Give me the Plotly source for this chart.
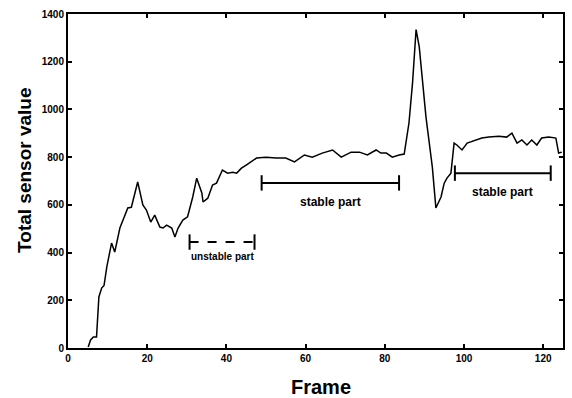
import plotly.graph_objects as go

# ---- data ----
frames = [5.1, 5.7, 6.4, 7.2, 7.8, 8.5, 9.1, 9.8, 11.0, 11.8, 13.1, 14.4, 15.1, 16.0,
          17.6, 18.9, 19.8, 20.9, 21.9, 23.2, 24.0, 24.9, 26.2, 27.0, 27.8, 29.0,
          30.2, 31.5, 32.5, 33.8, 34.1, 35.3, 36.5, 37.5, 38.3, 39.0, 40.3, 41.6,
          42.6, 43.8, 45.0, 46.3, 47.6, 50.0, 52.6, 55.0, 57.2, 59.7, 61.7, 64.2,
          66.8, 69.0, 71.5, 73.6, 75.6, 77.8, 79.0, 80.4, 81.9, 83.6, 84.9, 86.1,
          87.0, 87.9, 88.7, 90.4, 92.0, 92.9, 94.2, 95.0, 95.7, 96.7, 97.5, 98.2,
          99.5, 100.8, 103.0, 104.5, 106.3, 108.8, 110.8, 112.1, 113.4, 114.6,
          115.9, 117.1, 118.4, 119.6, 121.4, 123.2, 123.9, 124.7]
sensor = [4, 34, 46, 46, 214, 251, 262, 340, 440, 402, 503, 557, 587, 590,
          696, 600, 578, 528, 557, 507, 503, 515, 503, 465, 503, 536,
          550, 633, 712, 650, 612, 628, 683, 691, 717, 746, 733, 737,
          733, 754, 767, 780, 796, 800, 796, 796, 780, 809, 800, 817,
          830, 800, 821, 821, 809, 830, 817, 817, 800, 809, 813, 943,
          1110, 1335, 1262, 968, 759, 587, 633, 691, 712, 733, 859, 851,
          830, 859, 872, 880, 884, 888, 884, 901, 859, 872,
          851, 872, 851, 880, 884, 880, 817, 821]

unstable_x = [30.7, 47.1]
unstable_y = 444
stable1_x = [48.9, 83.6]
stable1_y = 692
stable2_x = [97.7, 121.9]
stable2_y = 733

x_ticks = [0, 20, 40, 60, 80, 100, 120]
y_ticks = [0, 200, 400, 600, 800, 1000, 1200, 1400]

FONT = "Liberation Sans"

fig = go.Figure()
fig.add_trace(go.Scatter(x=frames, y=sensor, mode="lines",
                         line=dict(color="black", width=1.5), showlegend=False))

def bracket(xr, y, dash):
    fig.add_trace(go.Scatter(x=xr, y=[y, y], mode="lines+markers",
                             line=dict(color="black", width=2, dash=dash),
                             marker=dict(symbol="line-ns-open", size=11,
                                         line=dict(color="black", width=2)),
                             showlegend=False))

bracket(unstable_x, unstable_y, "dash")
bracket(stable1_x, stable1_y, "solid")
bracket(stable2_x, stable2_y, "solid")

fig.add_annotation(x=sum(unstable_x) / 2, y=unstable_y - 62, text="<b>unstable part</b>",
                   showarrow=False, font=dict(size=10, color="black", family=FONT))
fig.add_annotation(x=sum(stable1_x) / 2, y=stable1_y - 80, text="<b>stable part</b>",
                   showarrow=False, font=dict(size=12, color="black", family=FONT))
fig.add_annotation(x=sum(stable2_x) / 2, y=stable2_y - 80, text="<b>stable part</b>",
                   showarrow=False, font=dict(size=12, color="black", family=FONT))

# axis titles
fig.add_annotation(xref="paper", yref="paper", x=0.511, y=-0.117, text="<b>Frame</b>",
                   showarrow=False, xanchor="center", yanchor="middle",
                   font=dict(size=20, color="black", family=FONT))
fig.add_annotation(xref="paper", yref="paper", x=-0.087, y=0.533, text="<b>Total sensor value</b>",
                   showarrow=False, xanchor="center", yanchor="middle", textangle=-90,
                   font=dict(size=19, color="black", family=FONT))

axis_common = dict(showline=True, linecolor="black", linewidth=2, mirror="allticks",
                   ticks="inside", ticklen=4, tickwidth=1.5, tickcolor="black",
                   showgrid=False, zeroline=False,
                   tickfont=dict(size=10, color="black", family=FONT))

fig.update_xaxes(range=[0, 125], tickvals=x_ticks,
                 ticktext=[f"<b>{v}</b>" for v in x_ticks], **axis_common)
fig.update_yaxes(range=[0, 1400], tickvals=y_ticks,
                 ticktext=[f"<b>{v}</b>" for v in y_ticks], **axis_common)

fig.update_layout(width=572, height=398, margin=dict(l=68, r=7, t=14, b=50),
                  plot_bgcolor="white", paper_bgcolor="white")

fig.write_html("out.html")
